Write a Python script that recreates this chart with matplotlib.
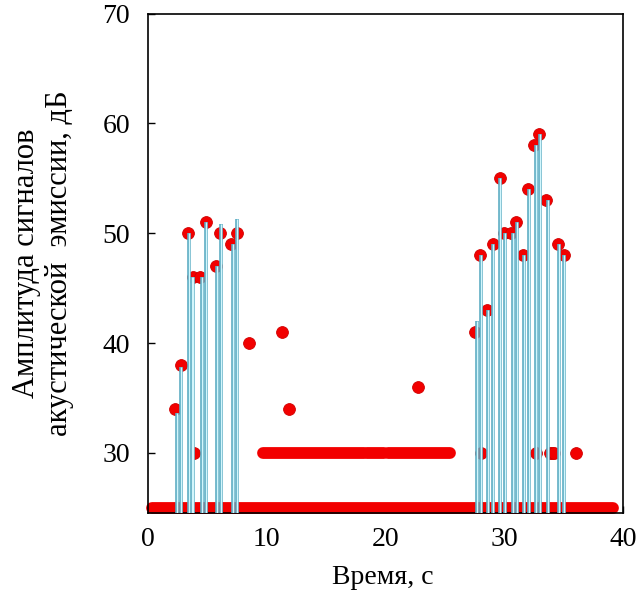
import matplotlib.pyplot as plt

plt.rcParams['font.family'] = ['Liberation Serif', 'DejaVu Serif']

# amplitude events (time, dB)
pts_x = [2.27, 2.75, 3.4, 3.76, 3.9, 4.38, 4.88, 5.7, 6.04, 6.96, 7.47, 8.5,
         11.28, 11.87, 22.68,
         27.54, 27.96, 28.0, 28.52, 29.0, 29.6, 29.98, 30.57, 31.0, 31.58,
         31.97, 32.5, 32.67, 32.93, 33.5, 33.8, 34.0, 34.2, 34.53, 34.97, 36.04]
pts_y = [34, 38, 50, 46, 30, 46, 51, 47, 50, 49, 50, 40,
         41, 34, 36,
         41, 48, 30, 43, 49, 55, 50, 50, 51, 48,
         54, 58, 30, 59, 53, 30, 30, 30, 49, 48, 30]

# drop lines (time, top value)
stem_x = [2.47, 2.8, 3.45, 3.68, 3.82, 4.52, 4.88, 5.78, 6.12, 7.13, 7.47,
          27.67, 28.0, 28.6, 29.0, 29.6, 30.06, 30.68, 31.05, 31.6, 32.06,
          32.65, 33.0, 33.63, 34.6, 35.0]
stem_top = [33.6, 37.8, 50, 46, 46, 46, 51, 47, 50.8, 49, 51.3,
            42, 48, 43, 49, 55, 50, 50, 51, 48, 54,
            58, 59, 53, 49, 48]

# continuous runs of background-level signals (start, end, level)
run_start = [0.3, 9.7, 18.4, 20.2]
run_end = [39.1, 18.2, 19.9, 25.4]
run_level = [25, 30, 30, 30]

red = '#f20000'
ms = 8.5

fig = plt.figure(figsize=(6.38, 5.96), dpi=100)
ax = fig.add_axes([0.232, 0.139, 0.745, 0.838])

for s, e, lv in zip(run_start, run_end, run_level):
    ax.plot([s, e], [lv, lv], color=red, lw=ms, solid_capstyle='round',
            zorder=2, clip_on=False)

ax.plot(pts_x, pts_y, 'o', color=red, markersize=ms, markeredgecolor='#d00000',
        markeredgewidth=0.6, zorder=3, clip_on=False)

for x, t in zip(stem_x, stem_top):
    ax.plot([x, x], [24.4, t], color='#5aabc2', lw=2.6, zorder=4,
            solid_capstyle='butt')
    ax.plot([x, x], [24.4, t], color='#d2f6fc', lw=1.0, zorder=5,
            solid_capstyle='butt')

ax.set_xlim(0, 40)
ax.set_ylim(24.5, 70)
ax.set_xticks([0, 10, 20, 30, 40])
ax.set_yticks([30, 40, 50, 60, 70])
ax.tick_params(direction='in', length=5, width=1, labelsize=20, color='black')
ax.tick_params(axis='y', pad=13)
ax.tick_params(axis='x', pad=10)
for sp in ax.spines.values():
    sp.set_linewidth(1.2)

fig.text(383 / 638, 1 - 578 / 596, 'Время, с', fontsize=20,
         ha='center', va='center')
fig.text(43 / 638, 1 - 263 / 596, 'Амплитуда сигналов\nакустической  эмиссии, дБ',
         fontsize=22, rotation=90, ha='center', va='center',
         multialignment='center', linespacing=1.15)

fig.savefig('out.png', dpi=100)
